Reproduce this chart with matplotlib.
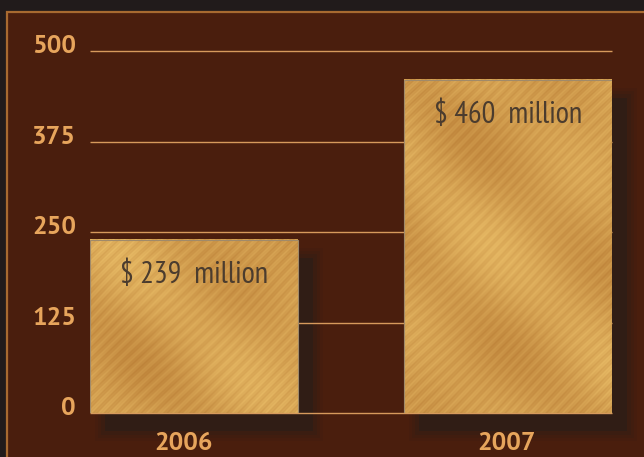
import matplotlib
matplotlib.use('Agg')
import matplotlib.pyplot as plt
import matplotlib.patches as mpatches
from matplotlib.transforms import IdentityTransform, ScaledTranslation
import numpy as np

# data
YEARS = ['2006', '2007']
REVENUE = [239, 460]          # $ million
LABELS = ['$ 239  million', '$ 460  million']
Y_TICKS = [0, 125, 250, 375, 500]

# colours
BG_DARK = '#211b1b'
PANEL = '#4a1e0d'
FRAME = '#a86a30'
GRID = '#d79a5c'
TICK_TXT = '#e7a55c'
LABEL_TXT = '#4b3c2e'
SHADOW = '#2a1d19'

W, H, DPI = 644, 457, 100
BAR_W = 0.6624

fig = plt.figure(figsize=(W / DPI, H / DPI), dpi=DPI, facecolor=BG_DARK)

# brown panel with orange frame
panel = mpatches.Rectangle((6.5 / W, -0.05), 1.1, (H - 11.5) / H + 0.05,
                           transform=fig.transFigure, facecolor=PANEL,
                           edgecolor=FRAME, linewidth=1.6, zorder=-10)
fig.patches.append(panel)

ax = fig.add_axes([90 / W, (H - 413) / H, 522 / W, 362 / H])
ax.set_facecolor('none')
ax.set_xlim(-BAR_W / 2, 1 + BAR_W / 2)
ax.set_ylim(0, 500)
for s in ax.spines.values():
    s.set_visible(False)

# gridlines
for t in Y_TICKS:
    ax.axhline(t, color=GRID, lw=1.0, zorder=2, clip_on=False,
               solid_capstyle='butt')

# gold texture (deterministic pattern, diagonal brushed look)
def gold_texture(nx, ny, phase):
    u, v = np.meshgrid(np.arange(nx), np.arange(ny))
    d = u + v
    f = (0.5
         + 0.10 * np.sin(0.55 * d + 2.0 * np.sin(0.031 * u + phase))
         + 0.06 * np.sin(1.7 * d + 3.0 * np.sin(0.05 * v))
         + 0.16 * np.sin(0.022 * u + phase) * np.cos(0.027 * v - 0.5 * phase)
         + 0.10 * np.sin(0.04 * (u - v) + 1.7 * phase))
    f = np.clip(f, 0, 1)[..., None]
    dark = np.array([0.72, 0.48, 0.20])
    light = np.array([0.93, 0.76, 0.42])
    return dark + (light - dark) * f

fig.canvas.draw()
for i, val in enumerate(REVENUE):
    x0, x1 = i - BAR_W / 2, i + BAR_W / 2
    # blurred drop shadow in pixel space
    (px0, py0), (px1, py1) = ax.transData.transform([(x0, 0), (x1, val)])
    for grow, a in [(10, 0.10), (7, 0.15), (4, 0.22), (0, 0.6)]:
        sh = mpatches.Rectangle((px0 + 15 - grow, py0 - 18 - grow),
                                px1 - px0 + 2 * grow, py1 - py0 + 2 * grow,
                                transform=IdentityTransform(), facecolor=SHADOW,
                                edgecolor='none', alpha=a, zorder=1, clip_on=False)
        ax.add_patch(sh)
    ax.imshow(gold_texture(int(px1 - px0), int(py1 - py0), 0.7 + 2.1 * i),
              extent=[x0, x1, 0, val], aspect='auto', zorder=3,
              interpolation='bilinear')
    ax.add_patch(mpatches.Rectangle((x0, 0), BAR_W, val, facecolor='none',
                                    edgecolor='#a08a6a', lw=0.8, zorder=4))
    ax.annotate(LABELS[i], (i, val), xytext=(0, -25), textcoords='offset points',
                ha='center', va='center', fontsize=22, color=LABEL_TXT,
                family=['PT Sans Narrow', 'DejaVu Sans'], zorder=5)

ax.set_xlim(-BAR_W / 2, 1 + BAR_W / 2)
ax.set_ylim(0, 500)

ax.set_yticks(Y_TICKS)
ax.set_yticklabels([str(t) for t in Y_TICKS])
ax.set_xticks([-0.035, 0.995])
ax.set_xticklabels(YEARS)
ax.tick_params(length=0, colors=TICK_TXT)
ax.tick_params(axis='y', pad=10)
ax.tick_params(axis='x', pad=14)
up = ScaledTranslation(0, 5 / 72, fig.dpi_scale_trans)
for lab in ax.get_yticklabels():
    lab.set_transform(lab.get_transform() + up)
for lab in ax.get_yticklabels() + ax.get_xticklabels():
    lab.set_fontfamily(['PT Sans', 'DejaVu Sans'])
    lab.set_fontweight('bold')
    lab.set_fontsize(18.5)
    lab.set_color(TICK_TXT)

fig.savefig('out.png', dpi=DPI, facecolor=BG_DARK)
